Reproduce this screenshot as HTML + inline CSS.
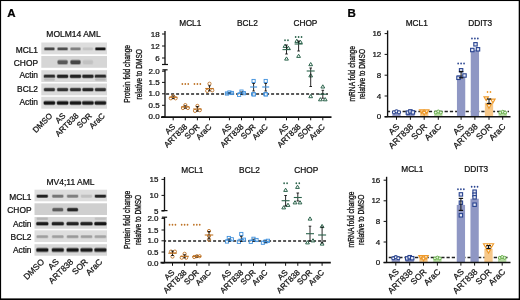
<!DOCTYPE html><html><head><meta charset="utf-8"><style>html,body{margin:0;padding:0;background:#fff}svg{display:block}text{font-family:"Liberation Sans",sans-serif}</style></head><body>
<div style="will-change:transform;width:520px;height:300px">
<svg width="520" height="300" viewBox="0 0 520 300">
<defs><filter id="blur" x="-20%" y="-100%" width="140%" height="300%"><feGaussianBlur stdDeviation="0.75"/></filter></defs>
<rect x="0" y="0" width="520" height="300" fill="#fff"/>
<text x="7.2" y="16.5" font-size="11.5" text-anchor="start" font-weight="bold" fill="#000" stroke="#000" stroke-width="0.24" >A</text>
<text x="347.6" y="16.5" font-size="11.5" text-anchor="start" font-weight="bold" fill="#000" stroke="#000" stroke-width="0.24" >B</text>
<rect x="41.3" y="42.5" width="65.7" height="11.8" fill="rgb(221,221,221)"/>
<text x="38" y="52.5" font-size="8.4" text-anchor="end" font-weight="normal" fill="#111" stroke="#111" stroke-width="0.24" >MCL1</text>
<rect x="41.3" y="56" width="65.7" height="11.8" fill="rgb(214,214,214)"/>
<text x="38" y="65.8" font-size="8.4" text-anchor="end" font-weight="normal" fill="#111" stroke="#111" stroke-width="0.24" >CHOP</text>
<rect x="41.3" y="70.2" width="65.7" height="11.8" fill="rgb(218,218,218)"/>
<text x="38" y="78.3" font-size="8.4" text-anchor="end" font-weight="normal" fill="#111" stroke="#111" stroke-width="0.24" >Actin</text>
<rect x="41.3" y="83.5" width="65.7" height="11.8" fill="rgb(218,218,218)"/>
<text x="38" y="91.5" font-size="8.4" text-anchor="end" font-weight="normal" fill="#111" stroke="#111" stroke-width="0.24" >BCL2</text>
<rect x="41.3" y="96.8" width="65.7" height="11.9" fill="rgb(220,220,220)"/>
<text x="38" y="104.6" font-size="8.4" text-anchor="end" font-weight="normal" fill="#111" stroke="#111" stroke-width="0.24" >Actin</text>
<g filter="url(#blur)">
<rect x="43.90" y="46.98" width="11.00" height="3.84" rx="1.44" fill="rgb(162,162,162)"/>
<rect x="44.50" y="47.70" width="9.80" height="2.40" rx="0.80" fill="rgb(72,72,72)"/>
<rect x="57.10" y="46.98" width="11.00" height="3.84" rx="1.44" fill="rgb(165,165,165)"/>
<rect x="57.70" y="47.70" width="9.80" height="2.40" rx="0.80" fill="rgb(80,80,80)"/>
<rect x="70.00" y="46.98" width="11.00" height="3.84" rx="1.44" fill="rgb(184,184,184)"/>
<rect x="70.60" y="47.70" width="9.80" height="2.40" rx="0.80" fill="rgb(128,128,128)"/>
<rect x="82.40" y="46.98" width="11.00" height="3.84" rx="1.44" fill="rgb(211,211,211)"/>
<rect x="83.00" y="47.70" width="9.80" height="2.40" rx="0.80" fill="rgb(196,196,196)"/>
<rect x="94.90" y="46.98" width="11.00" height="3.84" rx="1.44" fill="rgb(143,143,143)"/>
<rect x="95.50" y="47.70" width="9.80" height="2.40" rx="0.80" fill="rgb(25,25,25)"/>
<rect x="57.10" y="59.58" width="11.00" height="5.44" rx="2.04" fill="rgb(165,165,165)"/>
<rect x="57.70" y="60.60" width="9.80" height="3.40" rx="1.13" fill="rgb(90,90,90)"/>
<rect x="70.00" y="59.58" width="11.00" height="5.44" rx="2.04" fill="rgb(157,157,157)"/>
<rect x="70.60" y="60.60" width="9.80" height="3.40" rx="1.13" fill="rgb(70,70,70)"/>
<rect x="82.40" y="59.58" width="11.00" height="5.44" rx="2.04" fill="rgb(206,206,206)"/>
<rect x="83.00" y="60.60" width="9.80" height="3.40" rx="1.13" fill="rgb(194,194,194)"/>
<rect x="43.40" y="74.06" width="12.00" height="4.48" rx="1.68" fill="rgb(149,149,149)"/>
<rect x="44.00" y="74.90" width="10.80" height="2.80" rx="0.93" fill="rgb(45,45,45)"/>
<rect x="56.60" y="74.06" width="12.00" height="4.48" rx="1.68" fill="rgb(145,145,145)"/>
<rect x="57.20" y="74.90" width="10.80" height="2.80" rx="0.93" fill="rgb(35,35,35)"/>
<rect x="69.50" y="74.06" width="12.00" height="4.48" rx="1.68" fill="rgb(145,145,145)"/>
<rect x="70.10" y="74.90" width="10.80" height="2.80" rx="0.93" fill="rgb(35,35,35)"/>
<rect x="81.90" y="74.06" width="12.00" height="4.48" rx="1.68" fill="rgb(147,147,147)"/>
<rect x="82.50" y="74.90" width="10.80" height="2.80" rx="0.93" fill="rgb(39,39,39)"/>
<rect x="94.40" y="74.06" width="12.00" height="4.48" rx="1.68" fill="rgb(149,149,149)"/>
<rect x="95.00" y="74.90" width="10.80" height="2.80" rx="0.93" fill="rgb(45,45,45)"/>
<rect x="43.65" y="77.64" width="11.50" height="3.52" rx="1.32" fill="rgb(206,206,206)"/>
<rect x="44.25" y="78.30" width="10.30" height="2.20" rx="0.73" fill="rgb(189,189,189)"/>
<rect x="94.65" y="77.64" width="11.50" height="3.52" rx="1.32" fill="rgb(205,205,205)"/>
<rect x="95.25" y="78.30" width="10.30" height="2.20" rx="0.73" fill="rgb(185,185,185)"/>
<rect x="43.50" y="87.52" width="11.80" height="4.16" rx="1.56" fill="rgb(152,152,152)"/>
<rect x="44.10" y="88.30" width="10.60" height="2.60" rx="0.87" fill="rgb(51,51,51)"/>
<rect x="56.70" y="87.52" width="11.80" height="4.16" rx="1.56" fill="rgb(152,152,152)"/>
<rect x="57.30" y="88.30" width="10.60" height="2.60" rx="0.87" fill="rgb(51,51,51)"/>
<rect x="69.60" y="87.52" width="11.80" height="4.16" rx="1.56" fill="rgb(152,152,152)"/>
<rect x="70.20" y="88.30" width="10.60" height="2.60" rx="0.87" fill="rgb(51,51,51)"/>
<rect x="82.00" y="87.52" width="11.80" height="4.16" rx="1.56" fill="rgb(147,147,147)"/>
<rect x="82.60" y="88.30" width="10.60" height="2.60" rx="0.87" fill="rgb(39,39,39)"/>
<rect x="94.50" y="87.52" width="11.80" height="4.16" rx="1.56" fill="rgb(152,152,152)"/>
<rect x="95.10" y="88.30" width="10.60" height="2.60" rx="0.87" fill="rgb(51,51,51)"/>
<rect x="43.30" y="100.50" width="12.20" height="4.80" rx="1.80" fill="rgb(143,143,143)"/>
<rect x="43.90" y="101.40" width="11.00" height="3.00" rx="1.00" fill="rgb(25,25,25)"/>
<rect x="56.50" y="100.50" width="12.20" height="4.80" rx="1.80" fill="rgb(143,143,143)"/>
<rect x="57.10" y="101.40" width="11.00" height="3.00" rx="1.00" fill="rgb(25,25,25)"/>
<rect x="69.40" y="100.50" width="12.20" height="4.80" rx="1.80" fill="rgb(143,143,143)"/>
<rect x="70.00" y="101.40" width="11.00" height="3.00" rx="1.00" fill="rgb(25,25,25)"/>
<rect x="81.80" y="100.50" width="12.20" height="4.80" rx="1.80" fill="rgb(145,145,145)"/>
<rect x="82.40" y="101.40" width="11.00" height="3.00" rx="1.00" fill="rgb(31,31,31)"/>
<rect x="94.30" y="100.50" width="12.20" height="4.80" rx="1.80" fill="rgb(145,145,145)"/>
<rect x="94.90" y="101.40" width="11.00" height="3.00" rx="1.00" fill="rgb(31,31,31)"/>
</g>
<text x="73.5" y="37.2" font-size="8.5" text-anchor="middle" font-weight="normal" fill="#111" stroke="#111" stroke-width="0.24" >MOLM14 AML</text>
<text x="52.87" y="116.3" font-size="8.0" text-anchor="end" fill="#111" stroke="#111" stroke-width="0.24" transform="rotate(-45 52.87 116.3)">DMSO</text>
<text x="66.01" y="116.3" font-size="8.0" text-anchor="end" fill="#111" stroke="#111" stroke-width="0.24" transform="rotate(-45 66.01 116.3)">AS</text>
<text x="79.15" y="116.3" font-size="8.0" text-anchor="end" fill="#111" stroke="#111" stroke-width="0.24" transform="rotate(-45 79.15 116.3)">ART838</text>
<text x="92.29" y="116.3" font-size="8.0" text-anchor="end" fill="#111" stroke="#111" stroke-width="0.24" transform="rotate(-45 92.29 116.3)">SOR</text>
<text x="105.43" y="116.3" font-size="8.0" text-anchor="end" fill="#111" stroke="#111" stroke-width="0.24" transform="rotate(-45 105.43 116.3)">AraC</text>
<rect x="34.5" y="189.7" width="72.5" height="11.6" fill="rgb(221,221,221)"/>
<text x="31.5" y="199.7" font-size="8.4" text-anchor="end" font-weight="normal" fill="#111" stroke="#111" stroke-width="0.24" >MCL1</text>
<rect x="34.5" y="203.3" width="72.5" height="11.7" fill="rgb(207,207,207)"/>
<text x="31.5" y="213.4" font-size="8.4" text-anchor="end" font-weight="normal" fill="#111" stroke="#111" stroke-width="0.24" >CHOP</text>
<rect x="34.5" y="217" width="72.5" height="11.7" fill="rgb(216,216,216)"/>
<text x="31.5" y="226.7" font-size="8.4" text-anchor="end" font-weight="normal" fill="#111" stroke="#111" stroke-width="0.24" >Actin</text>
<rect x="34.5" y="230.3" width="72.5" height="11.7" fill="rgb(222,222,222)"/>
<text x="31.5" y="239.9" font-size="8.4" text-anchor="end" font-weight="normal" fill="#111" stroke="#111" stroke-width="0.24" >BCL2</text>
<rect x="34.5" y="244.2" width="72.5" height="11.5" fill="rgb(216,216,216)"/>
<text x="31.5" y="253.0" font-size="8.4" text-anchor="end" font-weight="normal" fill="#111" stroke="#111" stroke-width="0.24" >Actin</text>
<g filter="url(#blur)">
<rect x="36.30" y="194.28" width="12.00" height="3.84" rx="1.44" fill="rgb(147,147,147)"/>
<rect x="36.90" y="195.00" width="10.80" height="2.40" rx="0.80" fill="rgb(35,35,35)"/>
<rect x="51.80" y="194.28" width="12.00" height="3.84" rx="1.44" fill="rgb(180,180,180)"/>
<rect x="52.40" y="195.00" width="10.80" height="2.40" rx="0.80" fill="rgb(118,118,118)"/>
<rect x="66.60" y="194.28" width="12.00" height="3.84" rx="1.44" fill="rgb(184,184,184)"/>
<rect x="67.20" y="195.00" width="10.80" height="2.40" rx="0.80" fill="rgb(128,128,128)"/>
<rect x="80.50" y="194.28" width="12.00" height="3.84" rx="1.44" fill="rgb(209,209,209)"/>
<rect x="81.10" y="195.00" width="10.80" height="2.40" rx="0.80" fill="rgb(192,192,192)"/>
<rect x="94.40" y="194.28" width="12.00" height="3.84" rx="1.44" fill="rgb(149,149,149)"/>
<rect x="95.00" y="195.00" width="10.80" height="2.40" rx="0.80" fill="rgb(39,39,39)"/>
<rect x="52.05" y="207.46" width="11.50" height="4.48" rx="1.68" fill="rgb(161,161,161)"/>
<rect x="52.65" y="208.30" width="10.30" height="2.80" rx="0.93" fill="rgb(91,91,91)"/>
<rect x="66.85" y="207.46" width="11.50" height="4.48" rx="1.68" fill="rgb(140,140,140)"/>
<rect x="67.45" y="208.30" width="10.30" height="2.80" rx="0.93" fill="rgb(38,38,38)"/>
<rect x="35.90" y="221.46" width="12.80" height="4.48" rx="1.68" fill="rgb(143,143,143)"/>
<rect x="36.50" y="222.30" width="11.60" height="2.80" rx="0.93" fill="rgb(31,31,31)"/>
<rect x="51.40" y="221.46" width="12.80" height="4.48" rx="1.68" fill="rgb(144,144,144)"/>
<rect x="52.00" y="222.30" width="11.60" height="2.80" rx="0.93" fill="rgb(35,35,35)"/>
<rect x="66.20" y="221.46" width="12.80" height="4.48" rx="1.68" fill="rgb(144,144,144)"/>
<rect x="66.80" y="222.30" width="11.60" height="2.80" rx="0.93" fill="rgb(35,35,35)"/>
<rect x="80.10" y="221.46" width="12.80" height="4.48" rx="1.68" fill="rgb(144,144,144)"/>
<rect x="80.70" y="222.30" width="11.60" height="2.80" rx="0.93" fill="rgb(35,35,35)"/>
<rect x="94.00" y="221.46" width="12.80" height="4.48" rx="1.68" fill="rgb(139,139,139)"/>
<rect x="94.60" y="222.30" width="11.60" height="2.80" rx="0.93" fill="rgb(21,21,21)"/>
<rect x="36.30" y="217.10" width="12.00" height="3.20" rx="1.20" fill="rgb(203,203,203)"/>
<rect x="36.90" y="217.70" width="10.80" height="2.00" rx="0.67" fill="rgb(183,183,183)"/>
<rect x="94.40" y="217.10" width="12.00" height="3.20" rx="1.20" fill="rgb(207,207,207)"/>
<rect x="95.00" y="217.70" width="10.80" height="2.00" rx="0.67" fill="rgb(193,193,193)"/>
<rect x="36.20" y="234.94" width="12.20" height="3.52" rx="1.32" fill="rgb(197,197,197)"/>
<rect x="36.80" y="235.60" width="11.00" height="2.20" rx="0.73" fill="rgb(159,159,159)"/>
<rect x="51.70" y="234.94" width="12.20" height="3.52" rx="1.32" fill="rgb(197,197,197)"/>
<rect x="52.30" y="235.60" width="11.00" height="2.20" rx="0.73" fill="rgb(159,159,159)"/>
<rect x="66.50" y="234.94" width="12.20" height="3.52" rx="1.32" fill="rgb(194,194,194)"/>
<rect x="67.10" y="235.60" width="11.00" height="2.20" rx="0.73" fill="rgb(153,153,153)"/>
<rect x="80.40" y="234.94" width="12.20" height="3.52" rx="1.32" fill="rgb(197,197,197)"/>
<rect x="81.00" y="235.60" width="11.00" height="2.20" rx="0.73" fill="rgb(159,159,159)"/>
<rect x="94.30" y="234.94" width="12.20" height="3.52" rx="1.32" fill="rgb(199,199,199)"/>
<rect x="94.90" y="235.60" width="11.00" height="2.20" rx="0.73" fill="rgb(164,164,164)"/>
<rect x="35.90" y="247.44" width="12.80" height="5.12" rx="1.92" fill="rgb(140,140,140)"/>
<rect x="36.50" y="248.40" width="11.60" height="3.20" rx="1.07" fill="rgb(25,25,25)"/>
<rect x="51.40" y="247.44" width="12.80" height="5.12" rx="1.92" fill="rgb(143,143,143)"/>
<rect x="52.00" y="248.40" width="11.60" height="3.20" rx="1.07" fill="rgb(31,31,31)"/>
<rect x="66.20" y="247.44" width="12.80" height="5.12" rx="1.92" fill="rgb(140,140,140)"/>
<rect x="66.80" y="248.40" width="11.60" height="3.20" rx="1.07" fill="rgb(25,25,25)"/>
<rect x="80.10" y="247.44" width="12.80" height="5.12" rx="1.92" fill="rgb(143,143,143)"/>
<rect x="80.70" y="248.40" width="11.60" height="3.20" rx="1.07" fill="rgb(31,31,31)"/>
<rect x="94.00" y="247.44" width="12.80" height="5.12" rx="1.92" fill="rgb(143,143,143)"/>
<rect x="94.60" y="248.40" width="11.60" height="3.20" rx="1.07" fill="rgb(31,31,31)"/>
</g>
<text x="70.5" y="184.8" font-size="8.5" text-anchor="middle" font-weight="normal" fill="#111" stroke="#111" stroke-width="0.24" >MV4;11 AML</text>
<text x="44.95" y="262.3" font-size="8.5" text-anchor="end" fill="#111" stroke="#111" stroke-width="0.24" transform="rotate(-45 44.95 262.3)">DMSO</text>
<text x="59.45" y="262.3" font-size="8.5" text-anchor="end" fill="#111" stroke="#111" stroke-width="0.24" transform="rotate(-45 59.45 262.3)">AS</text>
<text x="73.95" y="262.3" font-size="8.5" text-anchor="end" fill="#111" stroke="#111" stroke-width="0.24" transform="rotate(-45 73.95 262.3)">ART838</text>
<text x="88.45" y="262.3" font-size="8.5" text-anchor="end" fill="#111" stroke="#111" stroke-width="0.24" transform="rotate(-45 88.45 262.3)">SOR</text>
<text x="102.95" y="262.3" font-size="8.5" text-anchor="end" fill="#111" stroke="#111" stroke-width="0.24" transform="rotate(-45 102.95 262.3)">AraC</text>
<line x1="165" y1="31" x2="165" y2="64.5" stroke="#111" stroke-width="1.35" />
<line x1="162" y1="64.5" x2="168" y2="64.5" stroke="#111" stroke-width="1.2" />
<line x1="162" y1="34" x2="165" y2="34" stroke="#111" stroke-width="1" />
<text x="159.7" y="36.6" font-size="8" text-anchor="end" font-weight="normal" fill="#111" stroke="#111" stroke-width="0.24" >18</text>
<line x1="162" y1="46" x2="165" y2="46" stroke="#111" stroke-width="1" />
<text x="159.7" y="48.6" font-size="8" text-anchor="end" font-weight="normal" fill="#111" stroke="#111" stroke-width="0.24" >12</text>
<line x1="162" y1="58" x2="165" y2="58" stroke="#111" stroke-width="1" />
<text x="159.7" y="60.6" font-size="8" text-anchor="end" font-weight="normal" fill="#111" stroke="#111" stroke-width="0.24" >6</text>
<line x1="165" y1="69.8" x2="165" y2="117.1" stroke="#111" stroke-width="1.35" />
<line x1="162.4" y1="69.8" x2="167.6" y2="69.8" stroke="#111" stroke-width="1.2" />
<line x1="162" y1="71.2" x2="165" y2="71.2" stroke="#111" stroke-width="1" />
<text x="159.7" y="73.8" font-size="8" text-anchor="end" font-weight="normal" fill="#111" stroke="#111" stroke-width="0.24" >2.0</text>
<line x1="162" y1="82.4" x2="165" y2="82.4" stroke="#111" stroke-width="1" />
<text x="159.7" y="85.0" font-size="8" text-anchor="end" font-weight="normal" fill="#111" stroke="#111" stroke-width="0.24" >1.5</text>
<line x1="162" y1="93.8" x2="165" y2="93.8" stroke="#111" stroke-width="1" />
<text x="159.7" y="96.39999999999999" font-size="8" text-anchor="end" font-weight="normal" fill="#111" stroke="#111" stroke-width="0.24" >1.0</text>
<line x1="162" y1="105.3" x2="165" y2="105.3" stroke="#111" stroke-width="1" />
<text x="159.7" y="107.89999999999999" font-size="8" text-anchor="end" font-weight="normal" fill="#111" stroke="#111" stroke-width="0.24" >0.5</text>
<line x1="162" y1="116.6" x2="165" y2="116.6" stroke="#111" stroke-width="1" />
<text x="159.7" y="119.19999999999999" font-size="8" text-anchor="end" font-weight="normal" fill="#111" stroke="#111" stroke-width="0.24" >0.0</text>
<line x1="161" y1="117.1" x2="331.5" y2="117.1" stroke="#111" stroke-width="1.6" />
<line x1="173.2" y1="117.1" x2="173.2" y2="120.3" stroke="#111" stroke-width="1" />
<line x1="185.3" y1="117.1" x2="185.3" y2="120.3" stroke="#111" stroke-width="1" />
<line x1="197.4" y1="117.1" x2="197.4" y2="120.3" stroke="#111" stroke-width="1" />
<line x1="209.5" y1="117.1" x2="209.5" y2="120.3" stroke="#111" stroke-width="1" />
<line x1="229.4" y1="117.1" x2="229.4" y2="120.3" stroke="#111" stroke-width="1" />
<line x1="241.5" y1="117.1" x2="241.5" y2="120.3" stroke="#111" stroke-width="1" />
<line x1="253.6" y1="117.1" x2="253.6" y2="120.3" stroke="#111" stroke-width="1" />
<line x1="265.7" y1="117.1" x2="265.7" y2="120.3" stroke="#111" stroke-width="1" />
<line x1="286.5" y1="117.1" x2="286.5" y2="120.3" stroke="#111" stroke-width="1" />
<line x1="298.6" y1="117.1" x2="298.6" y2="120.3" stroke="#111" stroke-width="1" />
<line x1="310.7" y1="117.1" x2="310.7" y2="120.3" stroke="#111" stroke-width="1" />
<line x1="322.8" y1="117.1" x2="322.8" y2="120.3" stroke="#111" stroke-width="1" />
<line x1="165" y1="94" x2="328" y2="94" stroke="#222" stroke-width="1.4" stroke-dasharray="3 2" stroke-dashoffset="-1.1"/>
<text x="190.3" y="25.8" font-size="8.3" text-anchor="middle" font-weight="normal" fill="#111" stroke="#111" stroke-width="0.24" >MCL1</text>
<text x="247.4" y="25.8" font-size="8.3" text-anchor="middle" font-weight="normal" fill="#111" stroke="#111" stroke-width="0.24" >BCL2</text>
<text x="305.4" y="25.8" font-size="8.3" text-anchor="middle" font-weight="normal" fill="#111" stroke="#111" stroke-width="0.24" >CHOP</text>
<text x="175.80" y="127.3" font-size="8" text-anchor="end" fill="#111" stroke="#111" stroke-width="0.24" transform="rotate(-45 175.80 127.3)">AS</text>
<text x="187.90" y="127.3" font-size="8" text-anchor="end" fill="#111" stroke="#111" stroke-width="0.24" transform="rotate(-45 187.90 127.3)">ART838</text>
<text x="200.00" y="127.3" font-size="8" text-anchor="end" fill="#111" stroke="#111" stroke-width="0.24" transform="rotate(-45 200.00 127.3)">SOR</text>
<text x="212.10" y="127.3" font-size="8" text-anchor="end" fill="#111" stroke="#111" stroke-width="0.24" transform="rotate(-45 212.10 127.3)">AraC</text>
<text x="232.00" y="127.3" font-size="8" text-anchor="end" fill="#111" stroke="#111" stroke-width="0.24" transform="rotate(-45 232.00 127.3)">AS</text>
<text x="244.10" y="127.3" font-size="8" text-anchor="end" fill="#111" stroke="#111" stroke-width="0.24" transform="rotate(-45 244.10 127.3)">ART838</text>
<text x="256.20" y="127.3" font-size="8" text-anchor="end" fill="#111" stroke="#111" stroke-width="0.24" transform="rotate(-45 256.20 127.3)">SOR</text>
<text x="268.30" y="127.3" font-size="8" text-anchor="end" fill="#111" stroke="#111" stroke-width="0.24" transform="rotate(-45 268.30 127.3)">AraC</text>
<text x="289.10" y="127.3" font-size="8" text-anchor="end" fill="#111" stroke="#111" stroke-width="0.24" transform="rotate(-45 289.10 127.3)">AS</text>
<text x="301.20" y="127.3" font-size="8" text-anchor="end" fill="#111" stroke="#111" stroke-width="0.24" transform="rotate(-45 301.20 127.3)">ART838</text>
<text x="313.30" y="127.3" font-size="8" text-anchor="end" fill="#111" stroke="#111" stroke-width="0.24" transform="rotate(-45 313.30 127.3)">SOR</text>
<text x="325.40" y="127.3" font-size="8" text-anchor="end" fill="#111" stroke="#111" stroke-width="0.24" transform="rotate(-45 325.40 127.3)">AraC</text>
<text x="0" y="0" font-size="9.0" text-anchor="middle" fill="#111" stroke="#111" stroke-width="0.3" textLength="57.8" lengthAdjust="spacingAndGlyphs" transform="translate(130.4 73.8) rotate(-90)">Protein fold change</text>
<text x="0" y="0" font-size="9.0" text-anchor="middle" fill="#111" stroke="#111" stroke-width="0.3" textLength="50.4" lengthAdjust="spacingAndGlyphs" transform="translate(142.0 74.2) rotate(-90)">relative to DMSO</text>
<line x1="164.5" y1="177" x2="164.5" y2="210.6" stroke="#111" stroke-width="1.35" />
<line x1="161.5" y1="210.6" x2="167.5" y2="210.6" stroke="#111" stroke-width="1.2" />
<line x1="161.5" y1="179.4" x2="164.5" y2="179.4" stroke="#111" stroke-width="1" />
<text x="158.5" y="182.0" font-size="8" text-anchor="end" font-weight="normal" fill="#111" stroke="#111" stroke-width="0.24" >15</text>
<line x1="161.5" y1="195.4" x2="164.5" y2="195.4" stroke="#111" stroke-width="1" />
<text x="158.5" y="198.0" font-size="8" text-anchor="end" font-weight="normal" fill="#111" stroke="#111" stroke-width="0.24" >10</text>
<line x1="161.5" y1="211" x2="164.5" y2="211" stroke="#111" stroke-width="1" />
<text x="158.5" y="213.6" font-size="8" text-anchor="end" font-weight="normal" fill="#111" stroke="#111" stroke-width="0.24" >5</text>
<line x1="164.5" y1="217.2" x2="164.5" y2="262.6" stroke="#111" stroke-width="1.35" />
<line x1="161.9" y1="217.2" x2="167.1" y2="217.2" stroke="#111" stroke-width="1.2" />
<line x1="161.5" y1="218.4" x2="164.5" y2="218.4" stroke="#111" stroke-width="1" />
<text x="158.5" y="221.0" font-size="8" text-anchor="end" font-weight="normal" fill="#111" stroke="#111" stroke-width="0.24" >2.0</text>
<line x1="161.5" y1="230" x2="164.5" y2="230" stroke="#111" stroke-width="1" />
<text x="158.5" y="232.6" font-size="8" text-anchor="end" font-weight="normal" fill="#111" stroke="#111" stroke-width="0.24" >1.5</text>
<line x1="161.5" y1="240.8" x2="164.5" y2="240.8" stroke="#111" stroke-width="1" />
<text x="158.5" y="243.4" font-size="8" text-anchor="end" font-weight="normal" fill="#111" stroke="#111" stroke-width="0.24" >1.0</text>
<line x1="161.5" y1="252" x2="164.5" y2="252" stroke="#111" stroke-width="1" />
<text x="158.5" y="254.6" font-size="8" text-anchor="end" font-weight="normal" fill="#111" stroke="#111" stroke-width="0.24" >0.5</text>
<line x1="161.5" y1="263.1" x2="164.5" y2="263.1" stroke="#111" stroke-width="1" />
<text x="158.5" y="265.70000000000005" font-size="8" text-anchor="end" font-weight="normal" fill="#111" stroke="#111" stroke-width="0.24" >0.0</text>
<line x1="160.5" y1="262.6" x2="330.8" y2="262.6" stroke="#111" stroke-width="1.6" />
<line x1="172.5" y1="262.6" x2="172.5" y2="265.8" stroke="#111" stroke-width="1" />
<line x1="184.6" y1="262.6" x2="184.6" y2="265.8" stroke="#111" stroke-width="1" />
<line x1="196.8" y1="262.6" x2="196.8" y2="265.8" stroke="#111" stroke-width="1" />
<line x1="209.0" y1="262.6" x2="209.0" y2="265.8" stroke="#111" stroke-width="1" />
<line x1="229.2" y1="262.6" x2="229.2" y2="265.8" stroke="#111" stroke-width="1" />
<line x1="241.3" y1="262.6" x2="241.3" y2="265.8" stroke="#111" stroke-width="1" />
<line x1="253.5" y1="262.6" x2="253.5" y2="265.8" stroke="#111" stroke-width="1" />
<line x1="265.6" y1="262.6" x2="265.6" y2="265.8" stroke="#111" stroke-width="1" />
<line x1="285.6" y1="262.6" x2="285.6" y2="265.8" stroke="#111" stroke-width="1" />
<line x1="297.8" y1="262.6" x2="297.8" y2="265.8" stroke="#111" stroke-width="1" />
<line x1="310" y1="262.6" x2="310" y2="265.8" stroke="#111" stroke-width="1" />
<line x1="322.1" y1="262.6" x2="322.1" y2="265.8" stroke="#111" stroke-width="1" />
<line x1="164.5" y1="241" x2="326" y2="241" stroke="#222" stroke-width="1.4" stroke-dasharray="3 2" stroke-dashoffset="-3.6"/>
<text x="192.4" y="172.5" font-size="8.3" text-anchor="middle" font-weight="normal" fill="#111" stroke="#111" stroke-width="0.24" >MCL1</text>
<text x="249.5" y="172.5" font-size="8.3" text-anchor="middle" font-weight="normal" fill="#111" stroke="#111" stroke-width="0.24" >BCL2</text>
<text x="306.2" y="172.5" font-size="8.3" text-anchor="middle" font-weight="normal" fill="#111" stroke="#111" stroke-width="0.24" >CHOP</text>
<text x="175.10" y="273.0" font-size="8" text-anchor="end" fill="#111" stroke="#111" stroke-width="0.24" transform="rotate(-45 175.10 273.0)">AS</text>
<text x="187.20" y="273.0" font-size="8" text-anchor="end" fill="#111" stroke="#111" stroke-width="0.24" transform="rotate(-45 187.20 273.0)">ART838</text>
<text x="199.40" y="273.0" font-size="8" text-anchor="end" fill="#111" stroke="#111" stroke-width="0.24" transform="rotate(-45 199.40 273.0)">SOR</text>
<text x="211.60" y="273.0" font-size="8" text-anchor="end" fill="#111" stroke="#111" stroke-width="0.24" transform="rotate(-45 211.60 273.0)">AraC</text>
<text x="231.80" y="273.0" font-size="8" text-anchor="end" fill="#111" stroke="#111" stroke-width="0.24" transform="rotate(-45 231.80 273.0)">AS</text>
<text x="243.90" y="273.0" font-size="8" text-anchor="end" fill="#111" stroke="#111" stroke-width="0.24" transform="rotate(-45 243.90 273.0)">ART838</text>
<text x="256.10" y="273.0" font-size="8" text-anchor="end" fill="#111" stroke="#111" stroke-width="0.24" transform="rotate(-45 256.10 273.0)">SOR</text>
<text x="268.20" y="273.0" font-size="8" text-anchor="end" fill="#111" stroke="#111" stroke-width="0.24" transform="rotate(-45 268.20 273.0)">AraC</text>
<text x="288.20" y="273.0" font-size="8" text-anchor="end" fill="#111" stroke="#111" stroke-width="0.24" transform="rotate(-45 288.20 273.0)">AS</text>
<text x="300.40" y="273.0" font-size="8" text-anchor="end" fill="#111" stroke="#111" stroke-width="0.24" transform="rotate(-45 300.40 273.0)">ART838</text>
<text x="312.60" y="273.0" font-size="8" text-anchor="end" fill="#111" stroke="#111" stroke-width="0.24" transform="rotate(-45 312.60 273.0)">SOR</text>
<text x="324.70" y="273.0" font-size="8" text-anchor="end" fill="#111" stroke="#111" stroke-width="0.24" transform="rotate(-45 324.70 273.0)">AraC</text>
<text x="0" y="0" font-size="9.0" text-anchor="middle" fill="#111" stroke="#111" stroke-width="0.3" textLength="58.4" lengthAdjust="spacingAndGlyphs" transform="translate(130.2 219.9) rotate(-90)">Protein fold change</text>
<text x="0" y="0" font-size="9.0" text-anchor="middle" fill="#111" stroke="#111" stroke-width="0.3" textLength="50.2" lengthAdjust="spacingAndGlyphs" transform="translate(141.1 219.9) rotate(-90)">relative to DMSO</text>
<circle cx="170.79999999999998" cy="98.3" r="1.6" fill="none" stroke="#be7326" stroke-width="0.9"/>
<circle cx="175.6" cy="98.3" r="1.6" fill="none" stroke="#be7326" stroke-width="0.9"/>
<circle cx="173.2" cy="96.3" r="1.6" fill="none" stroke="#be7326" stroke-width="0.9"/>
<line x1="173.2" y1="96.0" x2="173.2" y2="98.6" stroke="#111" stroke-width="0.9" />
<line x1="171.89999999999998" y1="96.0" x2="174.5" y2="96.0" stroke="#111" stroke-width="0.9" />
<line x1="171.89999999999998" y1="98.6" x2="174.5" y2="98.6" stroke="#111" stroke-width="0.9" />
<line x1="168.95" y1="97.3" x2="177.45" y2="97.3" stroke="#be7326" stroke-width="1.1" />
<circle cx="182.9" cy="108" r="1.6" fill="none" stroke="#be7326" stroke-width="0.9"/>
<circle cx="187.9" cy="108" r="1.6" fill="none" stroke="#be7326" stroke-width="0.9"/>
<circle cx="185.3" cy="105.1" r="1.6" fill="none" stroke="#be7326" stroke-width="0.9"/>
<line x1="185.3" y1="105.8" x2="185.3" y2="108.2" stroke="#111" stroke-width="0.9" />
<line x1="184.0" y1="105.8" x2="186.60000000000002" y2="105.8" stroke="#111" stroke-width="0.9" />
<line x1="184.0" y1="108.2" x2="186.60000000000002" y2="108.2" stroke="#111" stroke-width="0.9" />
<line x1="181.05" y1="107.0" x2="189.55" y2="107.0" stroke="#be7326" stroke-width="1.1" />
<circle cx="195.0" cy="110.9" r="1.6" fill="none" stroke="#be7326" stroke-width="0.9"/>
<circle cx="199.8" cy="110.2" r="1.6" fill="none" stroke="#be7326" stroke-width="0.9"/>
<circle cx="197.4" cy="105.9" r="1.6" fill="none" stroke="#be7326" stroke-width="0.9"/>
<line x1="197.4" y1="106.5" x2="197.4" y2="111.2" stroke="#111" stroke-width="0.9" />
<line x1="196.1" y1="106.5" x2="198.70000000000002" y2="106.5" stroke="#111" stroke-width="0.9" />
<line x1="196.1" y1="111.2" x2="198.70000000000002" y2="111.2" stroke="#111" stroke-width="0.9" />
<line x1="193.15" y1="109.0" x2="201.65" y2="109.0" stroke="#be7326" stroke-width="1.1" />
<circle cx="209.5" cy="83.7" r="1.6" fill="none" stroke="#be7326" stroke-width="0.9"/>
<circle cx="207.2" cy="90.9" r="1.6" fill="none" stroke="#be7326" stroke-width="0.9"/>
<circle cx="212.3" cy="90.3" r="1.6" fill="none" stroke="#be7326" stroke-width="0.9"/>
<line x1="209.5" y1="85.8" x2="209.5" y2="90.9" stroke="#111" stroke-width="0.9" />
<line x1="208.2" y1="85.8" x2="210.8" y2="85.8" stroke="#111" stroke-width="0.9" />
<line x1="208.2" y1="90.9" x2="210.8" y2="90.9" stroke="#111" stroke-width="0.9" />
<line x1="205.25" y1="88.5" x2="213.75" y2="88.5" stroke="#be7326" stroke-width="1.1" />
<ellipse cx="182.35" cy="84.00" rx="0.85" ry="1.0" fill="#be7326"/>
<ellipse cx="185.30" cy="84.00" rx="0.85" ry="1.0" fill="#be7326"/>
<ellipse cx="188.25" cy="84.00" rx="0.85" ry="1.0" fill="#be7326"/>
<ellipse cx="194.45" cy="84.00" rx="0.85" ry="1.0" fill="#be7326"/>
<ellipse cx="197.40" cy="84.00" rx="0.85" ry="1.0" fill="#be7326"/>
<ellipse cx="200.35" cy="84.00" rx="0.85" ry="1.0" fill="#be7326"/>
<rect x="225.40" y="91.90" width="3.2" height="3.2" fill="#fff" fill-opacity="0.6" stroke="#3d8fdc" stroke-width="0.9"/>
<rect x="227.80" y="90.90" width="3.2" height="3.2" fill="#fff" fill-opacity="0.6" stroke="#3d8fdc" stroke-width="0.9"/>
<rect x="230.20" y="91.40" width="3.2" height="3.2" fill="#fff" fill-opacity="0.6" stroke="#3d8fdc" stroke-width="0.9"/>
<line x1="229.4" y1="92.5" x2="229.4" y2="93.5" stroke="#111" stroke-width="0.9" />
<line x1="228.1" y1="92.5" x2="230.70000000000002" y2="92.5" stroke="#111" stroke-width="0.9" />
<line x1="228.1" y1="93.5" x2="230.70000000000002" y2="93.5" stroke="#111" stroke-width="0.9" />
<line x1="225.9" y1="93.0" x2="232.9" y2="93.0" stroke="#3d8fdc" stroke-width="1.1" />
<rect x="237.50" y="93.20" width="3.2" height="3.2" fill="#fff" fill-opacity="0.6" stroke="#3d8fdc" stroke-width="0.9"/>
<rect x="239.90" y="90.00" width="3.2" height="3.2" fill="#fff" fill-opacity="0.6" stroke="#3d8fdc" stroke-width="0.9"/>
<rect x="242.30" y="91.60" width="3.2" height="3.2" fill="#fff" fill-opacity="0.6" stroke="#3d8fdc" stroke-width="0.9"/>
<line x1="241.5" y1="92.0" x2="241.5" y2="94.2" stroke="#111" stroke-width="0.9" />
<line x1="240.2" y1="92.0" x2="242.8" y2="92.0" stroke="#111" stroke-width="0.9" />
<line x1="240.2" y1="94.2" x2="242.8" y2="94.2" stroke="#111" stroke-width="0.9" />
<line x1="238.0" y1="93.0" x2="245.0" y2="93.0" stroke="#3d8fdc" stroke-width="1.1" />
<rect x="252.00" y="79.40" width="3.2" height="3.2" fill="#fff" fill-opacity="0.6" stroke="#3d8fdc" stroke-width="0.9"/>
<rect x="251.70" y="92.60" width="3.2" height="3.2" fill="#fff" fill-opacity="0.6" stroke="#3d8fdc" stroke-width="0.9"/>
<rect x="252.30" y="92.80" width="3.2" height="3.2" fill="#fff" fill-opacity="0.6" stroke="#3d8fdc" stroke-width="0.9"/>
<line x1="253.6" y1="83.5" x2="253.6" y2="91.0" stroke="#111" stroke-width="0.9" />
<line x1="252.29999999999998" y1="83.5" x2="254.9" y2="83.5" stroke="#111" stroke-width="0.9" />
<line x1="252.29999999999998" y1="91.0" x2="254.9" y2="91.0" stroke="#111" stroke-width="0.9" />
<line x1="250.1" y1="87.0" x2="257.1" y2="87.0" stroke="#3d8fdc" stroke-width="1.1" />
<rect x="264.10" y="79.40" width="3.2" height="3.2" fill="#fff" fill-opacity="0.6" stroke="#3d8fdc" stroke-width="0.9"/>
<rect x="263.80" y="92.60" width="3.2" height="3.2" fill="#fff" fill-opacity="0.6" stroke="#3d8fdc" stroke-width="0.9"/>
<rect x="264.40" y="92.80" width="3.2" height="3.2" fill="#fff" fill-opacity="0.6" stroke="#3d8fdc" stroke-width="0.9"/>
<line x1="265.7" y1="83.5" x2="265.7" y2="91.0" stroke="#111" stroke-width="0.9" />
<line x1="264.4" y1="83.5" x2="267.0" y2="83.5" stroke="#111" stroke-width="0.9" />
<line x1="264.4" y1="91.0" x2="267.0" y2="91.0" stroke="#111" stroke-width="0.9" />
<line x1="262.2" y1="87.0" x2="269.2" y2="87.0" stroke="#3d8fdc" stroke-width="1.1" />
<path d="M285.00 44.20L286.90 47.40L283.10 47.40Z" fill="#fff" fill-opacity="0.6" stroke="#2b634b" stroke-width="1.0"/>
<path d="M288.30 46.20L290.20 49.40L286.40 49.40Z" fill="#fff" fill-opacity="0.6" stroke="#2b634b" stroke-width="1.0"/>
<path d="M286.50 56.90L288.40 60.10L284.60 60.10Z" fill="#fff" fill-opacity="0.6" stroke="#2b634b" stroke-width="1.0"/>
<line x1="286.5" y1="45" x2="286.5" y2="54" stroke="#111" stroke-width="0.9" />
<line x1="285.2" y1="45" x2="287.8" y2="45" stroke="#111" stroke-width="0.9" />
<line x1="285.2" y1="54" x2="287.8" y2="54" stroke="#111" stroke-width="0.9" />
<line x1="282.5" y1="49.6" x2="290.5" y2="49.6" stroke="#2b634b" stroke-width="1.1" />
<path d="M296.80 39.20L298.70 42.40L294.90 42.40Z" fill="#fff" fill-opacity="0.6" stroke="#2b634b" stroke-width="1.0"/>
<path d="M300.40 40.20L302.30 43.40L298.50 43.40Z" fill="#fff" fill-opacity="0.6" stroke="#2b634b" stroke-width="1.0"/>
<path d="M298.60 54.20L300.50 57.40L296.70 57.40Z" fill="#fff" fill-opacity="0.6" stroke="#2b634b" stroke-width="1.0"/>
<line x1="298.6" y1="41" x2="298.6" y2="51" stroke="#111" stroke-width="0.9" />
<line x1="297.3" y1="41" x2="299.90000000000003" y2="41" stroke="#111" stroke-width="0.9" />
<line x1="297.3" y1="51" x2="299.90000000000003" y2="51" stroke="#111" stroke-width="0.9" />
<line x1="294.6" y1="44.0" x2="302.6" y2="44.0" stroke="#2b634b" stroke-width="1.1" />
<path d="M310.70 62.50L312.60 65.70L308.80 65.70Z" fill="#fff" fill-opacity="0.6" stroke="#2b634b" stroke-width="1.0"/>
<path d="M310.70 73.70L312.60 76.90L308.80 76.90Z" fill="#fff" fill-opacity="0.6" stroke="#2b634b" stroke-width="1.0"/>
<path d="M310.70 94.50L312.60 97.70L308.80 97.70Z" fill="#fff" fill-opacity="0.6" stroke="#2b634b" stroke-width="1.0"/>
<line x1="310.7" y1="68" x2="310.7" y2="86.5" stroke="#111" stroke-width="0.9" />
<line x1="309.4" y1="68" x2="312.0" y2="68" stroke="#111" stroke-width="0.9" />
<line x1="309.4" y1="86.5" x2="312.0" y2="86.5" stroke="#111" stroke-width="0.9" />
<line x1="306.7" y1="71.0" x2="314.7" y2="71.0" stroke="#2b634b" stroke-width="1.1" />
<path d="M322.80 84.80L324.70 88.00L320.90 88.00Z" fill="#fff" fill-opacity="0.6" stroke="#2b634b" stroke-width="1.0"/>
<path d="M320.40 97.60L322.30 100.80L318.50 100.80Z" fill="#fff" fill-opacity="0.6" stroke="#2b634b" stroke-width="1.0"/>
<path d="M325.20 97.60L327.10 100.80L323.30 100.80Z" fill="#fff" fill-opacity="0.6" stroke="#2b634b" stroke-width="1.0"/>
<line x1="322.8" y1="90.3" x2="322.8" y2="98.2" stroke="#111" stroke-width="0.9" />
<line x1="321.5" y1="90.3" x2="324.1" y2="90.3" stroke="#111" stroke-width="0.9" />
<line x1="321.5" y1="98.2" x2="324.1" y2="98.2" stroke="#111" stroke-width="0.9" />
<line x1="318.8" y1="94.2" x2="326.8" y2="94.2" stroke="#2b634b" stroke-width="1.1" />
<ellipse cx="285.02" cy="40.30" rx="0.85" ry="1.0" fill="#2b634b"/>
<ellipse cx="287.98" cy="40.30" rx="0.85" ry="1.0" fill="#2b634b"/>
<ellipse cx="295.65" cy="36.90" rx="0.85" ry="1.0" fill="#2b634b"/>
<ellipse cx="298.60" cy="36.90" rx="0.85" ry="1.0" fill="#2b634b"/>
<ellipse cx="301.55" cy="36.90" rx="0.85" ry="1.0" fill="#2b634b"/>
<circle cx="171.0" cy="251.6" r="1.6" fill="none" stroke="#be7326" stroke-width="0.9"/>
<circle cx="174.9" cy="251.6" r="1.6" fill="none" stroke="#be7326" stroke-width="0.9"/>
<circle cx="172.5" cy="256.6" r="1.6" fill="none" stroke="#be7326" stroke-width="0.9"/>
<line x1="172.5" y1="251.0" x2="172.5" y2="255.5" stroke="#111" stroke-width="0.9" />
<line x1="171.2" y1="251.0" x2="173.8" y2="251.0" stroke="#111" stroke-width="0.9" />
<line x1="171.2" y1="255.5" x2="173.8" y2="255.5" stroke="#111" stroke-width="0.9" />
<line x1="168.25" y1="253.2" x2="176.75" y2="253.2" stroke="#be7326" stroke-width="1.1" />
<circle cx="184.6" cy="253.8" r="1.6" fill="none" stroke="#be7326" stroke-width="0.9"/>
<circle cx="181.7" cy="257.7" r="1.6" fill="none" stroke="#be7326" stroke-width="0.9"/>
<circle cx="186.2" cy="257.7" r="1.6" fill="none" stroke="#be7326" stroke-width="0.9"/>
<line x1="184.6" y1="254.8" x2="184.6" y2="257.8" stroke="#111" stroke-width="0.9" />
<line x1="183.29999999999998" y1="254.8" x2="185.9" y2="254.8" stroke="#111" stroke-width="0.9" />
<line x1="183.29999999999998" y1="257.8" x2="185.9" y2="257.8" stroke="#111" stroke-width="0.9" />
<line x1="180.35" y1="256.3" x2="188.85" y2="256.3" stroke="#be7326" stroke-width="1.1" />
<circle cx="194.20000000000002" cy="257" r="1.6" fill="none" stroke="#be7326" stroke-width="0.9"/>
<circle cx="196.8" cy="256.2" r="1.6" fill="none" stroke="#be7326" stroke-width="0.9"/>
<circle cx="199.60000000000002" cy="256.2" r="1.6" fill="none" stroke="#be7326" stroke-width="0.9"/>
<line x1="196.8" y1="256" x2="196.8" y2="257" stroke="#111" stroke-width="0.9" />
<line x1="195.5" y1="256" x2="198.10000000000002" y2="256" stroke="#111" stroke-width="0.9" />
<line x1="195.5" y1="257" x2="198.10000000000002" y2="257" stroke="#111" stroke-width="0.9" />
<line x1="192.55" y1="256.5" x2="201.05" y2="256.5" stroke="#be7326" stroke-width="1.1" />
<circle cx="209.0" cy="231" r="1.6" fill="none" stroke="#be7326" stroke-width="0.9"/>
<circle cx="209.0" cy="239.7" r="1.6" fill="none" stroke="#be7326" stroke-width="0.9"/>
<circle cx="209.0" cy="236" r="1.6" fill="none" stroke="#be7326" stroke-width="0.9"/>
<line x1="209.0" y1="231.5" x2="209.0" y2="239.0" stroke="#111" stroke-width="0.9" />
<line x1="207.7" y1="231.5" x2="210.3" y2="231.5" stroke="#111" stroke-width="0.9" />
<line x1="207.7" y1="239.0" x2="210.3" y2="239.0" stroke="#111" stroke-width="0.9" />
<line x1="204.75" y1="235.0" x2="213.25" y2="235.0" stroke="#be7326" stroke-width="1.1" />
<ellipse cx="169.55" cy="224.80" rx="0.85" ry="1.0" fill="#be7326"/>
<ellipse cx="172.50" cy="224.80" rx="0.85" ry="1.0" fill="#be7326"/>
<ellipse cx="175.45" cy="224.80" rx="0.85" ry="1.0" fill="#be7326"/>
<ellipse cx="181.65" cy="224.80" rx="0.85" ry="1.0" fill="#be7326"/>
<ellipse cx="184.60" cy="224.80" rx="0.85" ry="1.0" fill="#be7326"/>
<ellipse cx="187.55" cy="224.80" rx="0.85" ry="1.0" fill="#be7326"/>
<ellipse cx="193.85" cy="224.80" rx="0.85" ry="1.0" fill="#be7326"/>
<ellipse cx="196.80" cy="224.80" rx="0.85" ry="1.0" fill="#be7326"/>
<ellipse cx="199.75" cy="224.80" rx="0.85" ry="1.0" fill="#be7326"/>
<rect x="225.40" y="239.90" width="3.2" height="3.2" fill="#fff" fill-opacity="0.6" stroke="#3d8fdc" stroke-width="0.9"/>
<rect x="227.20" y="236.40" width="3.2" height="3.2" fill="#fff" fill-opacity="0.6" stroke="#3d8fdc" stroke-width="0.9"/>
<rect x="230.20" y="237.70" width="3.2" height="3.2" fill="#fff" fill-opacity="0.6" stroke="#3d8fdc" stroke-width="0.9"/>
<line x1="229.2" y1="239.0" x2="229.2" y2="241.0" stroke="#111" stroke-width="0.9" />
<line x1="227.89999999999998" y1="239.0" x2="230.5" y2="239.0" stroke="#111" stroke-width="0.9" />
<line x1="227.89999999999998" y1="241.0" x2="230.5" y2="241.0" stroke="#111" stroke-width="0.9" />
<line x1="226.2" y1="240.0" x2="232.2" y2="240.0" stroke="#3d8fdc" stroke-width="1.1" />
<rect x="239.70" y="232.40" width="3.2" height="3.2" fill="#fff" fill-opacity="0.6" stroke="#3d8fdc" stroke-width="0.9"/>
<rect x="237.30" y="240.20" width="3.2" height="3.2" fill="#fff" fill-opacity="0.6" stroke="#3d8fdc" stroke-width="0.9"/>
<rect x="242.30" y="238.10" width="3.2" height="3.2" fill="#fff" fill-opacity="0.6" stroke="#3d8fdc" stroke-width="0.9"/>
<line x1="241.3" y1="236.3" x2="241.3" y2="241.5" stroke="#111" stroke-width="0.9" />
<line x1="240.0" y1="236.3" x2="242.60000000000002" y2="236.3" stroke="#111" stroke-width="0.9" />
<line x1="240.0" y1="241.5" x2="242.60000000000002" y2="241.5" stroke="#111" stroke-width="0.9" />
<line x1="238.3" y1="239.3" x2="244.3" y2="239.3" stroke="#3d8fdc" stroke-width="1.1" />
<rect x="249.20" y="240.20" width="3.2" height="3.2" fill="#fff" fill-opacity="0.6" stroke="#3d8fdc" stroke-width="0.9"/>
<rect x="251.90" y="237.20" width="3.2" height="3.2" fill="#fff" fill-opacity="0.6" stroke="#3d8fdc" stroke-width="0.9"/>
<rect x="254.90" y="238.40" width="3.2" height="3.2" fill="#fff" fill-opacity="0.6" stroke="#3d8fdc" stroke-width="0.9"/>
<line x1="253.5" y1="239.2" x2="253.5" y2="241.2" stroke="#111" stroke-width="0.9" />
<line x1="252.2" y1="239.2" x2="254.8" y2="239.2" stroke="#111" stroke-width="0.9" />
<line x1="252.2" y1="241.2" x2="254.8" y2="241.2" stroke="#111" stroke-width="0.9" />
<line x1="250.5" y1="240.2" x2="256.5" y2="240.2" stroke="#3d8fdc" stroke-width="1.1" />
<rect x="261.30" y="241.10" width="3.2" height="3.2" fill="#fff" fill-opacity="0.6" stroke="#3d8fdc" stroke-width="0.9"/>
<rect x="264.00" y="239.90" width="3.2" height="3.2" fill="#fff" fill-opacity="0.6" stroke="#3d8fdc" stroke-width="0.9"/>
<rect x="266.30" y="239.20" width="3.2" height="3.2" fill="#fff" fill-opacity="0.6" stroke="#3d8fdc" stroke-width="0.9"/>
<line x1="265.6" y1="241" x2="265.6" y2="242.3" stroke="#111" stroke-width="0.9" />
<line x1="264.3" y1="241" x2="266.90000000000003" y2="241" stroke="#111" stroke-width="0.9" />
<line x1="264.3" y1="242.3" x2="266.90000000000003" y2="242.3" stroke="#111" stroke-width="0.9" />
<line x1="262.6" y1="241.6" x2="268.6" y2="241.6" stroke="#3d8fdc" stroke-width="1.1" />
<path d="M285.60 188.20L287.50 191.40L283.70 191.40Z" fill="#fff" fill-opacity="0.6" stroke="#2b634b" stroke-width="1.0"/>
<path d="M283.70 205.70L285.60 208.90L281.80 208.90Z" fill="#fff" fill-opacity="0.6" stroke="#2b634b" stroke-width="1.0"/>
<path d="M288.00 203.20L289.90 206.40L286.10 206.40Z" fill="#fff" fill-opacity="0.6" stroke="#2b634b" stroke-width="1.0"/>
<line x1="285.6" y1="195.5" x2="285.6" y2="206" stroke="#111" stroke-width="0.9" />
<line x1="284.3" y1="195.5" x2="286.90000000000003" y2="195.5" stroke="#111" stroke-width="0.9" />
<line x1="284.3" y1="206" x2="286.90000000000003" y2="206" stroke="#111" stroke-width="0.9" />
<line x1="281.6" y1="200.7" x2="289.6" y2="200.7" stroke="#2b634b" stroke-width="1.1" />
<path d="M297.50 185.20L299.40 188.40L295.60 188.40Z" fill="#fff" fill-opacity="0.6" stroke="#2b634b" stroke-width="1.0"/>
<path d="M295.00 200.70L296.90 203.90L293.10 203.90Z" fill="#fff" fill-opacity="0.6" stroke="#2b634b" stroke-width="1.0"/>
<path d="M300.00 200.70L301.90 203.90L298.10 203.90Z" fill="#fff" fill-opacity="0.6" stroke="#2b634b" stroke-width="1.0"/>
<line x1="297.8" y1="193" x2="297.8" y2="201" stroke="#111" stroke-width="0.9" />
<line x1="296.5" y1="193" x2="299.1" y2="193" stroke="#111" stroke-width="0.9" />
<line x1="296.5" y1="201" x2="299.1" y2="201" stroke="#111" stroke-width="0.9" />
<line x1="293.8" y1="197.5" x2="301.8" y2="197.5" stroke="#2b634b" stroke-width="1.1" />
<path d="M310.00 216.90L311.90 220.10L308.10 220.10Z" fill="#fff" fill-opacity="0.6" stroke="#2b634b" stroke-width="1.0"/>
<path d="M307.50 240.70L309.40 243.90L305.60 243.90Z" fill="#fff" fill-opacity="0.6" stroke="#2b634b" stroke-width="1.0"/>
<path d="M313.00 238.70L314.90 241.90L311.10 241.90Z" fill="#fff" fill-opacity="0.6" stroke="#2b634b" stroke-width="1.0"/>
<line x1="310" y1="226.2" x2="310" y2="241" stroke="#111" stroke-width="0.9" />
<line x1="308.7" y1="226.2" x2="311.3" y2="226.2" stroke="#111" stroke-width="0.9" />
<line x1="308.7" y1="241" x2="311.3" y2="241" stroke="#111" stroke-width="0.9" />
<line x1="306.0" y1="233.7" x2="314.0" y2="233.7" stroke="#2b634b" stroke-width="1.1" />
<path d="M322.10 224.40L324.00 227.60L320.20 227.60Z" fill="#fff" fill-opacity="0.6" stroke="#2b634b" stroke-width="1.0"/>
<path d="M322.10 241.90L324.00 245.10L320.20 245.10Z" fill="#fff" fill-opacity="0.6" stroke="#2b634b" stroke-width="1.0"/>
<line x1="322.1" y1="227" x2="322.1" y2="243" stroke="#111" stroke-width="0.9" />
<line x1="320.8" y1="227" x2="323.40000000000003" y2="227" stroke="#111" stroke-width="0.9" />
<line x1="320.8" y1="243" x2="323.40000000000003" y2="243" stroke="#111" stroke-width="0.9" />
<line x1="318.1" y1="235.0" x2="326.1" y2="235.0" stroke="#2b634b" stroke-width="1.1" />
<ellipse cx="284.12" cy="183.30" rx="0.85" ry="1.0" fill="#2b634b"/>
<ellipse cx="287.08" cy="183.30" rx="0.85" ry="1.0" fill="#2b634b"/>
<ellipse cx="296.32" cy="183.30" rx="0.85" ry="1.0" fill="#2b634b"/>
<ellipse cx="299.28" cy="183.30" rx="0.85" ry="1.0" fill="#2b634b"/>
<line x1="387.6" y1="30.5" x2="387.6" y2="116.8" stroke="#111" stroke-width="1.35" />
<line x1="384.6" y1="33.599999999999994" x2="387.6" y2="33.599999999999994" stroke="#111" stroke-width="1" />
<text x="381.3" y="36.199999999999996" font-size="8" text-anchor="end" font-weight="normal" fill="#111" stroke="#111" stroke-width="0.24" >16</text>
<line x1="384.6" y1="54.39999999999999" x2="387.6" y2="54.39999999999999" stroke="#111" stroke-width="1" />
<text x="381.3" y="56.99999999999999" font-size="8" text-anchor="end" font-weight="normal" fill="#111" stroke="#111" stroke-width="0.24" >12</text>
<line x1="384.6" y1="75.19999999999999" x2="387.6" y2="75.19999999999999" stroke="#111" stroke-width="1" />
<text x="381.3" y="77.79999999999998" font-size="8" text-anchor="end" font-weight="normal" fill="#111" stroke="#111" stroke-width="0.24" >8</text>
<line x1="384.6" y1="96.0" x2="387.6" y2="96.0" stroke="#111" stroke-width="1" />
<text x="381.3" y="98.6" font-size="8" text-anchor="end" font-weight="normal" fill="#111" stroke="#111" stroke-width="0.24" >4</text>
<line x1="384.6" y1="116.8" x2="387.6" y2="116.8" stroke="#111" stroke-width="1" />
<text x="381.3" y="119.39999999999999" font-size="8" text-anchor="end" font-weight="normal" fill="#111" stroke="#111" stroke-width="0.24" >0</text>
<text x="416.7" y="26" font-size="8.3" text-anchor="middle" font-weight="normal" fill="#111" stroke="#111" stroke-width="0.24" >MCL1</text>
<text x="480.2" y="26" font-size="8.3" text-anchor="middle" font-weight="normal" fill="#111" stroke="#111" stroke-width="0.24" >DDIT3</text>
<line x1="387.6" y1="111.6" x2="509" y2="111.6" stroke="#222" stroke-width="1.5" stroke-dasharray="3.25 2" stroke-dashoffset="0.75"/>
<rect x="392.35" y="111.34" width="8.3" height="5.46" fill="#8f97c4"/>
<rect x="406.25" y="111.60" width="8.3" height="5.20" fill="#8f97c4"/>
<rect x="420.05" y="111.34" width="8.3" height="5.46" fill="#f6c88a"/>
<rect x="434.15" y="112.12" width="8.3" height="4.68" fill="#b9dca4"/>
<rect x="456.95" y="75.20" width="8.3" height="41.60" fill="#8f97c4"/>
<rect x="470.75" y="49.72" width="8.3" height="67.08" fill="#8f97c4"/>
<rect x="484.85" y="102.76" width="8.3" height="14.04" fill="#f6c88a"/>
<rect x="498.55" y="112.38" width="8.3" height="4.42" fill="#b9dca4"/>
<circle cx="394.0" cy="112.3" r="1.6" fill="#f4f5fb" stroke="#27428f" stroke-width="1.05"/>
<circle cx="396.5" cy="111.3" r="1.6" fill="#f4f5fb" stroke="#27428f" stroke-width="1.05"/>
<circle cx="399.0" cy="112.3" r="1.6" fill="#f4f5fb" stroke="#27428f" stroke-width="1.05"/>
<rect x="406.20" y="110.90" width="3.4" height="3.4" fill="#e6e9f5" stroke="#27428f" stroke-width="1.1"/>
<rect x="408.70" y="109.70" width="3.4" height="3.4" fill="#e6e9f5" stroke="#27428f" stroke-width="1.1"/>
<rect x="411.20" y="110.70" width="3.4" height="3.4" fill="#e6e9f5" stroke="#27428f" stroke-width="1.1"/>
<path d="M421.70 113.60L423.90 109.80L419.50 109.80Z" fill="#fff" fill-opacity="0.8" stroke="#ef9a2a" stroke-width="1.15"/>
<path d="M424.20 115.10L426.40 111.30L422.00 111.30Z" fill="#fff" fill-opacity="0.8" stroke="#ef9a2a" stroke-width="1.15"/>
<path d="M426.70 113.60L428.90 109.80L424.50 109.80Z" fill="#fff" fill-opacity="0.8" stroke="#ef9a2a" stroke-width="1.15"/>
<circle cx="435.8" cy="112.5" r="1.5" fill="#e4f2da" stroke="#5aa83c" stroke-width="0.9"/>
<circle cx="438.3" cy="111.5" r="1.5" fill="#e4f2da" stroke="#5aa83c" stroke-width="0.9"/>
<circle cx="440.8" cy="112.5" r="1.5" fill="#e4f2da" stroke="#5aa83c" stroke-width="0.9"/>
<rect x="459.40" y="68.60" width="3.4" height="3.4" fill="#e6e9f5" stroke="#27428f" stroke-width="1.1"/>
<rect x="456.80" y="76.10" width="3.4" height="3.4" fill="#e6e9f5" stroke="#27428f" stroke-width="1.1"/>
<rect x="462.80" y="73.80" width="3.4" height="3.4" fill="#e6e9f5" stroke="#27428f" stroke-width="1.1"/>
<line x1="461.1" y1="71.5" x2="461.1" y2="77.8" stroke="#111" stroke-width="1.0" />
<line x1="458.90000000000003" y1="71.5" x2="463.3" y2="71.5" stroke="#111" stroke-width="1.2" />
<line x1="458.90000000000003" y1="77.8" x2="463.3" y2="77.8" stroke="#111" stroke-width="1.2" />
<ellipse cx="458.15" cy="63.50" rx="0.85" ry="1.0" fill="#27428f"/>
<ellipse cx="461.10" cy="63.50" rx="0.85" ry="1.0" fill="#27428f"/>
<ellipse cx="464.05" cy="63.50" rx="0.85" ry="1.0" fill="#27428f"/>
<rect x="473.80" y="42.60" width="3.4" height="3.4" fill="#e6e9f5" stroke="#27428f" stroke-width="1.1"/>
<rect x="470.60" y="48.30" width="3.4" height="3.4" fill="#e6e9f5" stroke="#27428f" stroke-width="1.1"/>
<rect x="476.30" y="47.60" width="3.4" height="3.4" fill="#e6e9f5" stroke="#27428f" stroke-width="1.1"/>
<ellipse cx="471.95" cy="38.60" rx="0.85" ry="1.0" fill="#27428f"/>
<ellipse cx="474.90" cy="38.60" rx="0.85" ry="1.0" fill="#27428f"/>
<ellipse cx="477.85" cy="38.60" rx="0.85" ry="1.0" fill="#27428f"/>
<path d="M486.20 100.60L488.40 96.80L484.00 96.80Z" fill="#fff" fill-opacity="0.8" stroke="#ef9a2a" stroke-width="1.15"/>
<path d="M492.90 102.90L495.10 99.10L490.70 99.10Z" fill="#fff" fill-opacity="0.8" stroke="#ef9a2a" stroke-width="1.15"/>
<path d="M489.00 108.30L491.20 104.50L486.80 104.50Z" fill="#fff" fill-opacity="0.8" stroke="#ef9a2a" stroke-width="1.15"/>
<line x1="489.0" y1="99" x2="489.0" y2="103.5" stroke="#111" stroke-width="1.0" />
<line x1="486.8" y1="99" x2="491.2" y2="99" stroke="#111" stroke-width="1.2" />
<line x1="486.8" y1="103.5" x2="491.2" y2="103.5" stroke="#111" stroke-width="1.2" />
<ellipse cx="487.52" cy="91.90" rx="0.85" ry="1.0" fill="#ef9a2a"/>
<ellipse cx="490.48" cy="91.90" rx="0.85" ry="1.0" fill="#ef9a2a"/>
<circle cx="500.3" cy="112.6" r="1.5" fill="#e4f2da" stroke="#5aa83c" stroke-width="0.9"/>
<circle cx="502.7" cy="111.8" r="1.5" fill="#e4f2da" stroke="#5aa83c" stroke-width="0.9"/>
<circle cx="505.09999999999997" cy="112.6" r="1.5" fill="#e4f2da" stroke="#5aa83c" stroke-width="0.9"/>
<line x1="384.6" y1="116.8" x2="510.5" y2="116.8" stroke="#111" stroke-width="1.5" />
<line x1="396.5" y1="116.8" x2="396.5" y2="119.8" stroke="#111" stroke-width="1" />
<text x="400.00" y="127.2" font-size="8.5" text-anchor="end" fill="#111" stroke="#111" stroke-width="0.24" transform="rotate(-45 400.00 127.2)">AS</text>
<line x1="410.4" y1="116.8" x2="410.4" y2="119.8" stroke="#111" stroke-width="1" />
<text x="413.90" y="127.2" font-size="8.5" text-anchor="end" fill="#111" stroke="#111" stroke-width="0.24" transform="rotate(-45 413.90 127.2)">ART838</text>
<line x1="424.2" y1="116.8" x2="424.2" y2="119.8" stroke="#111" stroke-width="1" />
<text x="427.70" y="127.2" font-size="8.5" text-anchor="end" fill="#111" stroke="#111" stroke-width="0.24" transform="rotate(-45 427.70 127.2)">SOR</text>
<line x1="438.3" y1="116.8" x2="438.3" y2="119.8" stroke="#111" stroke-width="1" />
<text x="441.80" y="127.2" font-size="8.5" text-anchor="end" fill="#111" stroke="#111" stroke-width="0.24" transform="rotate(-45 441.80 127.2)">AraC</text>
<line x1="461.1" y1="116.8" x2="461.1" y2="119.8" stroke="#111" stroke-width="1" />
<text x="464.60" y="127.2" font-size="8.5" text-anchor="end" fill="#111" stroke="#111" stroke-width="0.24" transform="rotate(-45 464.60 127.2)">AS</text>
<line x1="474.9" y1="116.8" x2="474.9" y2="119.8" stroke="#111" stroke-width="1" />
<text x="478.40" y="127.2" font-size="8.5" text-anchor="end" fill="#111" stroke="#111" stroke-width="0.24" transform="rotate(-45 478.40 127.2)">ART838</text>
<line x1="489.0" y1="116.8" x2="489.0" y2="119.8" stroke="#111" stroke-width="1" />
<text x="492.50" y="127.2" font-size="8.5" text-anchor="end" fill="#111" stroke="#111" stroke-width="0.24" transform="rotate(-45 492.50 127.2)">SOR</text>
<line x1="502.7" y1="116.8" x2="502.7" y2="119.8" stroke="#111" stroke-width="1" />
<text x="506.20" y="127.2" font-size="8.5" text-anchor="end" fill="#111" stroke="#111" stroke-width="0.24" transform="rotate(-45 506.20 127.2)">AraC</text>
<text x="0" y="0" font-size="9.0" text-anchor="middle" fill="#111" stroke="#111" stroke-width="0.3" textLength="55.5" lengthAdjust="spacingAndGlyphs" transform="translate(355.2 73.75) rotate(-90)">mRNA fold change</text>
<text x="0" y="0" font-size="9.0" text-anchor="middle" fill="#111" stroke="#111" stroke-width="0.3" textLength="50.1" lengthAdjust="spacingAndGlyphs" transform="translate(364.7 74.05) rotate(-90)">relative to DMSO</text>
<line x1="386.6" y1="176.8" x2="386.6" y2="262.6" stroke="#111" stroke-width="1.35" />
<line x1="383.6" y1="180.20000000000002" x2="386.6" y2="180.20000000000002" stroke="#111" stroke-width="1" />
<text x="380.3" y="182.8" font-size="8" text-anchor="end" font-weight="normal" fill="#111" stroke="#111" stroke-width="0.24" >16</text>
<line x1="383.6" y1="200.8" x2="386.6" y2="200.8" stroke="#111" stroke-width="1" />
<text x="380.3" y="203.4" font-size="8" text-anchor="end" font-weight="normal" fill="#111" stroke="#111" stroke-width="0.24" >12</text>
<line x1="383.6" y1="221.40000000000003" x2="386.6" y2="221.40000000000003" stroke="#111" stroke-width="1" />
<text x="380.3" y="224.00000000000003" font-size="8" text-anchor="end" font-weight="normal" fill="#111" stroke="#111" stroke-width="0.24" >8</text>
<line x1="383.6" y1="242.00000000000003" x2="386.6" y2="242.00000000000003" stroke="#111" stroke-width="1" />
<text x="380.3" y="244.60000000000002" font-size="8" text-anchor="end" font-weight="normal" fill="#111" stroke="#111" stroke-width="0.24" >4</text>
<line x1="383.6" y1="262.6" x2="386.6" y2="262.6" stroke="#111" stroke-width="1" />
<text x="380.3" y="265.20000000000005" font-size="8" text-anchor="end" font-weight="normal" fill="#111" stroke="#111" stroke-width="0.24" >0</text>
<text x="412.3" y="172" font-size="8.3" text-anchor="middle" font-weight="normal" fill="#111" stroke="#111" stroke-width="0.24" >MCL1</text>
<text x="476.2" y="172" font-size="8.3" text-anchor="middle" font-weight="normal" fill="#111" stroke="#111" stroke-width="0.24" >DDIT3</text>
<line x1="386.6" y1="257.45000000000005" x2="509" y2="257.45000000000005" stroke="#222" stroke-width="1.5" stroke-dasharray="3.25 2" stroke-dashoffset="3.1"/>
<rect x="391.65" y="257.19" width="8.3" height="5.41" fill="#8f97c4"/>
<rect x="405.55" y="257.19" width="8.3" height="5.41" fill="#8f97c4"/>
<rect x="419.35" y="257.19" width="8.3" height="5.41" fill="#f6c88a"/>
<rect x="433.25" y="258.22" width="8.3" height="4.38" fill="#b9dca4"/>
<rect x="456.75" y="204.92" width="8.3" height="57.68" fill="#8f97c4"/>
<rect x="470.45" y="198.74" width="8.3" height="63.86" fill="#8f97c4"/>
<rect x="484.35" y="248.80" width="8.3" height="13.80" fill="#f6c88a"/>
<rect x="498.05" y="257.71" width="8.3" height="4.89" fill="#b9dca4"/>
<circle cx="393.3" cy="258.2" r="1.6" fill="#f4f5fb" stroke="#27428f" stroke-width="1.05"/>
<circle cx="395.8" cy="257.2" r="1.6" fill="#f4f5fb" stroke="#27428f" stroke-width="1.05"/>
<circle cx="398.3" cy="258.2" r="1.6" fill="#f4f5fb" stroke="#27428f" stroke-width="1.05"/>
<rect x="405.50" y="256.70" width="3.4" height="3.4" fill="#e6e9f5" stroke="#27428f" stroke-width="1.1"/>
<rect x="408.00" y="255.50" width="3.4" height="3.4" fill="#e6e9f5" stroke="#27428f" stroke-width="1.1"/>
<rect x="410.50" y="256.50" width="3.4" height="3.4" fill="#e6e9f5" stroke="#27428f" stroke-width="1.1"/>
<path d="M421.00 259.40L423.20 255.60L418.80 255.60Z" fill="#fff" fill-opacity="0.8" stroke="#ef9a2a" stroke-width="1.15"/>
<path d="M423.50 260.90L425.70 257.10L421.30 257.10Z" fill="#fff" fill-opacity="0.8" stroke="#ef9a2a" stroke-width="1.15"/>
<path d="M426.00 259.40L428.20 255.60L423.80 255.60Z" fill="#fff" fill-opacity="0.8" stroke="#ef9a2a" stroke-width="1.15"/>
<circle cx="435.0" cy="258.4" r="1.5" fill="#e4f2da" stroke="#5aa83c" stroke-width="0.9"/>
<circle cx="437.4" cy="257.6" r="1.5" fill="#e4f2da" stroke="#5aa83c" stroke-width="0.9"/>
<circle cx="439.79999999999995" cy="258.4" r="1.5" fill="#e4f2da" stroke="#5aa83c" stroke-width="0.9"/>
<rect x="459.20" y="192.70" width="3.4" height="3.4" fill="#e6e9f5" stroke="#27428f" stroke-width="1.1"/>
<rect x="459.20" y="201.00" width="3.4" height="3.4" fill="#e6e9f5" stroke="#27428f" stroke-width="1.1"/>
<rect x="459.20" y="213.60" width="3.4" height="3.4" fill="#e6e9f5" stroke="#27428f" stroke-width="1.1"/>
<line x1="460.9" y1="198.4" x2="460.9" y2="210.4" stroke="#111" stroke-width="1.0" />
<line x1="458.7" y1="198.4" x2="463.09999999999997" y2="198.4" stroke="#111" stroke-width="1.2" />
<line x1="458.7" y1="210.4" x2="463.09999999999997" y2="210.4" stroke="#111" stroke-width="1.2" />
<ellipse cx="457.95" cy="189.30" rx="0.85" ry="1.0" fill="#27428f"/>
<ellipse cx="460.90" cy="189.30" rx="0.85" ry="1.0" fill="#27428f"/>
<ellipse cx="463.85" cy="189.30" rx="0.85" ry="1.0" fill="#27428f"/>
<rect x="472.90" y="190.00" width="3.4" height="3.4" fill="#e6e9f5" stroke="#27428f" stroke-width="1.1"/>
<rect x="472.90" y="193.00" width="3.4" height="3.4" fill="#e6e9f5" stroke="#27428f" stroke-width="1.1"/>
<rect x="472.90" y="195.60" width="3.4" height="3.4" fill="#e6e9f5" stroke="#27428f" stroke-width="1.1"/>
<rect x="472.90" y="203.00" width="3.4" height="3.4" fill="#e6e9f5" stroke="#27428f" stroke-width="1.1"/>
<ellipse cx="471.65" cy="186.80" rx="0.85" ry="1.0" fill="#27428f"/>
<ellipse cx="474.60" cy="186.80" rx="0.85" ry="1.0" fill="#27428f"/>
<ellipse cx="477.55" cy="186.80" rx="0.85" ry="1.0" fill="#27428f"/>
<path d="M485.70 247.50L487.90 243.70L483.50 243.70Z" fill="#fff" fill-opacity="0.8" stroke="#ef9a2a" stroke-width="1.15"/>
<path d="M491.40 247.50L493.60 243.70L489.20 243.70Z" fill="#fff" fill-opacity="0.8" stroke="#ef9a2a" stroke-width="1.15"/>
<path d="M488.50 253.10L490.70 249.30L486.30 249.30Z" fill="#fff" fill-opacity="0.8" stroke="#ef9a2a" stroke-width="1.15"/>
<line x1="488.5" y1="245.6" x2="488.5" y2="248.4" stroke="#111" stroke-width="1.0" />
<line x1="486.3" y1="245.6" x2="490.7" y2="245.6" stroke="#111" stroke-width="1.2" />
<line x1="486.3" y1="248.4" x2="490.7" y2="248.4" stroke="#111" stroke-width="1.2" />
<circle cx="499.8" cy="257.8" r="1.5" fill="#e4f2da" stroke="#5aa83c" stroke-width="0.9"/>
<circle cx="502.2" cy="257" r="1.5" fill="#e4f2da" stroke="#5aa83c" stroke-width="0.9"/>
<circle cx="504.59999999999997" cy="257.8" r="1.5" fill="#e4f2da" stroke="#5aa83c" stroke-width="0.9"/>
<line x1="383.6" y1="262.6" x2="510.5" y2="262.6" stroke="#111" stroke-width="1.5" />
<line x1="395.8" y1="262.6" x2="395.8" y2="265.6" stroke="#111" stroke-width="1" />
<text x="399.40" y="272.3" font-size="8.5" text-anchor="end" fill="#111" stroke="#111" stroke-width="0.24" transform="rotate(-45 399.40 272.3)">AS</text>
<line x1="409.7" y1="262.6" x2="409.7" y2="265.6" stroke="#111" stroke-width="1" />
<text x="413.30" y="272.3" font-size="8.5" text-anchor="end" fill="#111" stroke="#111" stroke-width="0.24" transform="rotate(-45 413.30 272.3)">ART838</text>
<line x1="423.5" y1="262.6" x2="423.5" y2="265.6" stroke="#111" stroke-width="1" />
<text x="427.10" y="272.3" font-size="8.5" text-anchor="end" fill="#111" stroke="#111" stroke-width="0.24" transform="rotate(-45 427.10 272.3)">SOR</text>
<line x1="437.4" y1="262.6" x2="437.4" y2="265.6" stroke="#111" stroke-width="1" />
<text x="441.00" y="272.3" font-size="8.5" text-anchor="end" fill="#111" stroke="#111" stroke-width="0.24" transform="rotate(-45 441.00 272.3)">AraC</text>
<line x1="460.9" y1="262.6" x2="460.9" y2="265.6" stroke="#111" stroke-width="1" />
<text x="464.50" y="272.3" font-size="8.5" text-anchor="end" fill="#111" stroke="#111" stroke-width="0.24" transform="rotate(-45 464.50 272.3)">AS</text>
<line x1="474.6" y1="262.6" x2="474.6" y2="265.6" stroke="#111" stroke-width="1" />
<text x="478.20" y="272.3" font-size="8.5" text-anchor="end" fill="#111" stroke="#111" stroke-width="0.24" transform="rotate(-45 478.20 272.3)">ART838</text>
<line x1="488.5" y1="262.6" x2="488.5" y2="265.6" stroke="#111" stroke-width="1" />
<text x="492.10" y="272.3" font-size="8.5" text-anchor="end" fill="#111" stroke="#111" stroke-width="0.24" transform="rotate(-45 492.10 272.3)">SOR</text>
<line x1="502.2" y1="262.6" x2="502.2" y2="265.6" stroke="#111" stroke-width="1" />
<text x="505.80" y="272.3" font-size="8.5" text-anchor="end" fill="#111" stroke="#111" stroke-width="0.24" transform="rotate(-45 505.80 272.3)">AraC</text>
<text x="0" y="0" font-size="9.0" text-anchor="middle" fill="#111" stroke="#111" stroke-width="0.3" textLength="55.9" lengthAdjust="spacingAndGlyphs" transform="translate(354.3 219.45) rotate(-90)">mRNA fold change</text>
<text x="0" y="0" font-size="9.0" text-anchor="middle" fill="#111" stroke="#111" stroke-width="0.3" textLength="50.2" lengthAdjust="spacingAndGlyphs" transform="translate(364.4 219.8) rotate(-90)">relative to DMSO</text>
<rect x="0" y="0" width="520" height="1.05" fill="#000"/><rect x="0" y="0" width="1.1" height="300" fill="#000"/><rect x="518.7" y="0" width="1.3" height="300" fill="#000"/><rect x="0" y="298.4" width="520" height="1.6" fill="#000"/>
</svg></div></body></html>
